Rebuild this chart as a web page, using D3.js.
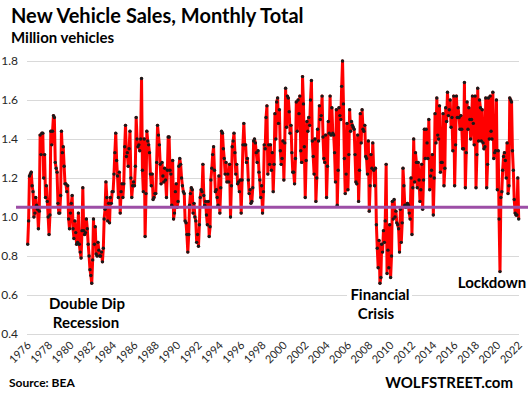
<!DOCTYPE html>
<html>
<head>
<meta charset="utf-8">
<script src="https://cdn.jsdelivr.net/npm/d3@7"></script>
<style>
  body { margin: 0; background: #fff; }
  svg { display: block; font-family: Lato, "Open Sans", sans-serif; }
</style>
</head>
<body>
<div id="chart"></div>
<script>
// monthly totals, million vehicles, Jan 1976 .. Jan 2022
const startYear = 1976;
const sales = [
	0.86, 0.98, 1.21, 1.22, 1.23, 1.16, 1.13, 1.00, 1.02, 1.10, 1.06, 1.04, // 1976
	0.94, 1.03, 1.42, 1.32, 1.43, 1.43, 1.20, 1.32, 1.10, 1.16, 1.08, 1.00, // 1977
	0.91, 1.01, 1.44, 1.37, 1.44, 1.52, 1.51, 1.28, 1.25, 1.23, 1.07, 1.02, // 1978
	1.02, 1.11, 1.44, 1.33, 1.36, 1.26, 1.17, 1.17, 1.13, 1.16, 0.99, 0.94, // 1979
	1.02, 1.07, 1.11, 0.94, 0.89, 0.98, 0.92, 0.86, 0.87, 1.02, 0.86, 0.82, // 1980
	0.79, 0.93, 1.15, 0.93, 0.91, 0.92, 0.99, 0.94, 0.86, 0.80, 0.73, 0.70, // 1981
	0.66, 0.78, 0.99, 0.86, 0.95, 0.81, 0.80, 0.87, 0.83, 0.80, 0.80, 0.82, // 1982
	0.77, 0.84, 0.99, 1.04, 1.18, 1.10, 0.98, 1.07, 0.97, 1.10, 1.07, 1.13, // 1983
	1.13, 1.22, 1.33, 1.43, 1.29, 1.21, 1.10, 1.23, 1.02, 1.13, 1.17, 1.10, // 1984
	1.17, 1.36, 1.47, 1.31, 1.33, 1.26, 1.35, 1.44, 1.20, 1.10, 1.16, 1.18, // 1985
	1.16, 1.26, 1.51, 1.40, 1.36, 1.37, 1.34, 1.40, 1.71, 1.24, 1.13, 1.40, // 1986
	0.90, 1.12, 1.44, 1.39, 1.37, 1.33, 1.22, 1.16, 1.22, 1.09, 1.10, 1.12, // 1987
	1.12, 1.28, 1.47, 1.42, 1.37, 1.27, 1.17, 1.28, 1.21, 1.18, 1.25, 1.19, // 1988
	1.10, 1.24, 1.41, 1.41, 1.24, 1.22, 1.06, 1.29, 0.99, 1.02, 1.13, 1.17, // 1989
	1.05, 1.08, 1.26, 1.30, 1.27, 1.20, 1.16, 1.13, 1.12, 0.98, 0.97, 0.91, // 1990
	0.82, 0.91, 1.06, 1.12, 1.15, 1.14, 1.02, 1.07, 1.00, 0.98, 0.87, 0.91, // 1991
	0.85, 0.96, 1.10, 1.14, 1.13, 1.27, 1.11, 1.06, 1.08, 1.01, 0.96, 1.08, // 1992
	0.90, 0.95, 1.19, 1.25, 1.32, 1.36, 1.24, 1.13, 1.14, 1.10, 1.06, 1.21, // 1993
	1.02, 1.15, 1.44, 1.43, 1.35, 1.30, 1.22, 1.28, 1.18, 1.22, 1.18, 1.27, // 1994
	1.00, 1.16, 1.36, 1.39, 1.43, 1.33, 1.22, 1.27, 1.17, 1.18, 1.13, 1.19, // 1995
	1.02, 1.19, 1.37, 1.48, 1.37, 1.37, 1.28, 1.30, 1.19, 1.12, 1.14, 1.07, // 1996
	1.08, 1.15, 1.39, 1.40, 1.38, 1.33, 1.28, 1.34, 1.23, 1.19, 1.10, 1.16, // 1997
	1.02, 1.13, 1.37, 1.35, 1.51, 1.57, 1.22, 1.37, 1.27, 1.37, 1.24, 1.33, // 1998
	1.13, 1.27, 1.53, 1.40, 1.59, 1.61, 1.48, 1.55, 1.34, 1.27, 1.30, 1.39, // 1999
	1.19, 1.38, 1.66, 1.46, 1.62, 1.61, 1.54, 1.43, 1.47, 1.33, 1.23, 1.23, // 2000
	1.17, 1.30, 1.59, 1.44, 1.60, 1.53, 1.62, 1.34, 1.28, 1.72, 1.58, 1.36, // 2001
	1.10, 1.29, 1.49, 1.44, 1.51, 1.47, 1.60, 1.70, 1.39, 1.31, 1.22, 1.40, // 2002
	1.08, 1.20, 1.45, 1.39, 1.57, 1.50, 1.52, 1.62, 1.41, 1.30, 1.28, 1.42, // 2003
	1.10, 1.26, 1.49, 1.43, 1.62, 1.42, 1.56, 1.43, 1.42, 1.33, 1.18, 1.55, // 2004
	1.06, 1.24, 1.56, 1.52, 1.50, 1.67, 1.80, 1.58, 1.30, 1.12, 1.22, 1.48, // 2005
	1.14, 1.32, 1.55, 1.44, 1.49, 1.47, 1.46, 1.45, 1.32, 1.18, 1.17, 1.42, // 2006
	1.08, 1.24, 1.53, 1.38, 1.55, 1.45, 1.44, 1.47, 1.31, 1.30, 1.22, 1.39, // 2007
	1.03, 1.16, 1.32, 1.25, 1.38, 1.24, 1.16, 1.25, 0.96, 0.84, 0.74, 0.88, // 2008
	0.66, 0.69, 0.86, 0.82, 0.93, 0.87, 0.98, 1.27, 0.71, 0.83, 0.74, 0.96, // 2009
	0.69, 0.80, 1.08, 0.99, 1.09, 1.00, 1.03, 0.97, 0.96, 0.94, 0.82, 1.04, // 2010
	0.87, 0.97, 1.25, 1.16, 1.06, 1.05, 1.06, 1.07, 1.06, 1.02, 0.99, 1.20, // 2011
	0.91, 1.15, 1.40, 1.18, 1.33, 1.28, 1.15, 1.28, 1.19, 1.08, 1.14, 1.27, // 2012
	1.04, 1.19, 1.45, 1.30, 1.45, 1.38, 1.30, 1.50, 1.14, 1.21, 1.24, 1.32, // 2013
	1.01, 1.20, 1.53, 1.38, 1.61, 1.42, 1.40, 1.57, 1.23, 1.28, 1.28, 1.53, // 2014
	1.16, 1.25, 1.56, 1.49, 1.64, 1.52, 1.55, 1.60, 1.46, 1.51, 1.34, 1.62, // 2015
	1.16, 1.37, 1.62, 1.51, 1.56, 1.51, 1.45, 1.52, 1.45, 1.35, 1.35, 1.69, // 2016
	1.15, 1.33, 1.59, 1.45, 1.56, 1.50, 1.40, 1.50, 1.62, 1.48, 1.37, 1.62, // 2017
	1.15, 1.32, 1.66, 1.39, 1.60, 1.56, 1.39, 1.55, 1.38, 1.35, 1.36, 1.61, // 2018
	1.15, 1.27, 1.61, 1.40, 1.62, 1.44, 1.40, 1.64, 1.30, 1.33, 1.34, 1.60, // 2019
	1.14, 1.34, 0.99, 0.72, 1.10, 1.13, 1.24, 1.31, 1.33, 1.29, 1.20, 1.38, // 2020
	1.12, 1.16, 1.61, 1.60, 1.59, 1.34, 1.24, 1.09, 1.02, 1.01, 1.01, 1.20, // 2021
	0.99                                                                   // 2022
];
const yTicks = [ 0.4, 0.6, 0.8, 1.0, 1.2, 1.4, 1.6, 1.8 ];
const xTickYears = [ 1976, 1978, 1980, 1982, 1984, 1986, 1988, 1990, 1992, 1994, 1996, 1998,
	2000, 2002, 2004, 2006, 2008, 2010, 2012, 2014, 2016, 2018, 2020, 2022 ];
const refLevel = 1.05;
const notes = [ "Double Dip", "Recession", "Financial", "Crisis", "Lockdown" ];

const width = 528, height = 397;

const data = sales.map( ( v, i ) => ( { date: new Date( startYear, i, 1 ), value: v } ) );

const x = d3.scaleTime()
	.domain( [ data[0].date, data[ data.length - 1 ].date ] )
	.range( [ 27.7, 518.7 ] );

const y = d3.scaleLinear()
	.domain( [ 0.4, 1.8 ] )
	.range( [ 334, 61 ] );

const svg = d3.select( "#chart" ).append( "svg" )
	.attr( "width", width )
	.attr( "height", height );

// grid
svg.append( "g" )
	.selectAll( "line" )
	.data( yTicks )
	.join( "line" )
	.attr( "x1", 27 )
	.attr( "x2", 519 )
	.attr( "y1", d => Math.round( y( d ) ) + 0.5 )
	.attr( "y2", d => Math.round( y( d ) ) + 0.5 )
	.attr( "stroke", "#d9d9d9" )
	.attr( "stroke-width", 1 );

// y labels
svg.append( "g" )
	.selectAll( "text" )
	.data( yTicks )
	.join( "text" )
	.attr( "x", 18 )
	.attr( "y", d => y( d ) )
	.attr( "dy", "0.35em" )
	.attr( "text-anchor", "end" )
	.style( "font-size", "12px" )
	.attr( "fill", "#262626" )
	.text( d => d.toFixed( 1 ) );

// x labels, rotated
svg.append( "g" )
	.selectAll( "text" )
	.data( xTickYears )
	.join( "text" )
	.attr( "transform", d => `translate(${ x( new Date( d, 0, 1 ) ) + 4 }, 346) rotate(-45)` )
	.attr( "text-anchor", "end" )
	.style( "font-size", "11px" )
	.attr( "fill", "#262626" )
	.text( d => d );

// annotation box for Financial Crisis hides the grid line
svg.append( "rect" )
	.attr( "x", 347 ).attr( "y", 287 )
	.attr( "width", 65 ).attr( "height", 36 )
	.attr( "fill", "#fff" );

// series
const line = d3.line()
	.x( d => x( d.date ) )
	.y( d => y( d.value ) );

svg.append( "path" )
	.datum( data )
	.attr( "d", line )
	.attr( "fill", "none" )
	.attr( "stroke", "#ff0000" )
	.attr( "stroke-width", 3 )
	.attr( "stroke-linejoin", "round" );

svg.append( "g" )
	.selectAll( "circle" )
	.data( data )
	.join( "circle" )
	.attr( "cx", d => x( d.date ) )
	.attr( "cy", d => y( d.value ) )
	.attr( "r", 1.7 )
	.attr( "fill", "#1a1a1a" );

// reference line
svg.append( "line" )
	.attr( "x1", 16 ).attr( "x2", 528 )
	.attr( "y1", y( refLevel ) ).attr( "y2", y( refLevel ) )
	.attr( "stroke", "#9c4ea6" )
	.attr( "stroke-width", 3 );

// titles
svg.append( "text" )
	.attr( "x", 11 ).attr( "y", 23 )
	.style( "font-size", "20px" ).style( "font-weight", "bold" )
	.text( "New Vehicle Sales, Monthly Total" );

svg.append( "text" )
	.attr( "x", 11 ).attr( "y", 43 )
	.style( "font-size", "15px" ).style( "font-weight", "bold" )
	.text( "Million vehicles" );

// annotations
const noteAt = [ [ 87, 309 ], [ 86, 328 ], [ 380, 300 ], [ 376, 319 ], [ 492, 288 ] ];
svg.append( "g" )
	.selectAll( "text" )
	.data( notes )
	.join( "text" )
	.attr( "x", ( d, i ) => noteAt[i][0] )
	.attr( "y", ( d, i ) => noteAt[i][1] )
	.attr( "text-anchor", "middle" )
	.style( "font-size", "15px" ).style( "font-weight", "bold" )
	.text( d => d );

svg.append( "text" )
	.attr( "x", 9 ).attr( "y", 387 )
	.style( "font-size", "12px" ).style( "font-weight", "bold" )
	.text( "Source: BEA" );

svg.append( "text" )
	.attr( "x", 513 ).attr( "y", 388 )
	.attr( "text-anchor", "end" )
	.style( "font-size", "15px" ).style( "font-weight", "bold" )
	.text( "WOLFSTREET.com" );
</script>
</body>
</html>
